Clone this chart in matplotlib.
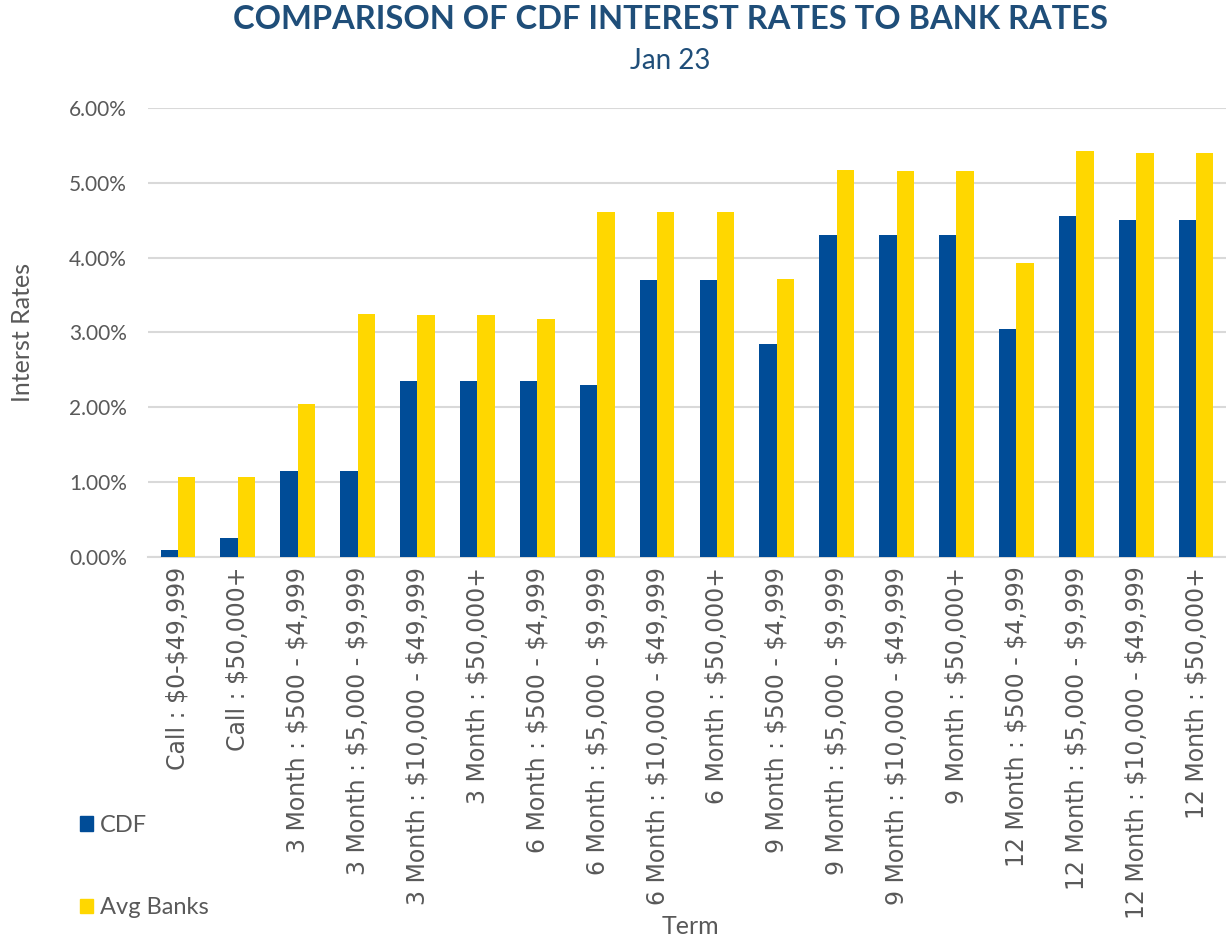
import numpy as np
import matplotlib.pyplot as plt
from matplotlib.patches import Patch
from matplotlib.ticker import PercentFormatter

# Term categories and rates (percent)
terms = [
    "Call : $0-$49,999", "Call : $50,000+",
    "3 Month : $500 - $4,999", "3 Month : $5,000 - $9,999",
    "3 Month : $10,000 - $49,999", "3 Month : $50,000+",
    "6 Month : $500 - $4,999", "6 Month : $5,000 - $9,999",
    "6 Month : $10,000 - $49,999", "6 Month : $50,000+",
    "9 Month : $500 - $4,999", "9 Month : $5,000 - $9,999",
    "9 Month : $10,000 - $49,999", "9 Month : $50,000+",
    "12 Month : $500 - $4,999", "12 Month : $5,000 - $9,999",
    "12 Month : $10,000 - $49,999", "12 Month : $50,000+",
]
cdf_rates = [0.10, 0.25, 1.15, 1.15, 2.35, 2.35, 2.35, 2.30, 3.70, 3.70,
             2.85, 4.30, 4.30, 4.30, 3.05, 4.55, 4.50, 4.50]
bank_rates = [1.07, 1.07, 2.04, 3.25, 3.24, 3.24, 3.18, 4.61, 4.61, 4.61,
              3.71, 5.17, 5.16, 5.16, 3.93, 5.42, 5.40, 5.40]

CDF_COLOR = "#004C97"
BANK_COLOR = "#FFD700"
TEXT_GRAY = "#595959"
TITLE_BLUE = "#1F4E79"

plt.rcParams["font.family"] = ["Lato", "DejaVu Sans"]
plt.rcParams["text.parse_math"] = False

fig = plt.figure(figsize=(12.26, 9.38), dpi=100)
ax = fig.add_axes([0.1207, 0.4062, 0.8793, 0.4787])

x = np.arange(len(terms))
w = 0.29
ax.bar(x - w / 2, cdf_rates, w, color=CDF_COLOR, zorder=3)
ax.bar(x + w / 2, bank_rates, w, color=BANK_COLOR, zorder=3)

ax.set_xlim(-0.5, len(terms) - 0.5)
ax.set_ylim(0, 6)
ax.set_yticks(np.arange(0, 7, 1))
ax.yaxis.set_major_formatter(PercentFormatter(decimals=2))
ax.set_xticks(x, labels=terms, rotation=90, family="DejaVu Sans")
ax.tick_params(axis="both", length=0, labelcolor=TEXT_GRAY)
ax.tick_params(axis="x", pad=7, labelsize=17)
ax.tick_params(axis="y", pad=15, labelsize=15)

ax.grid(axis="y", color="#D9D9D9", linewidth=1.5, zorder=0)
for s in ["top", "right", "left"]:
    ax.spines[s].set_visible(False)
ax.spines["bottom"].set_color("#D9D9D9")
ax.spines["bottom"].set_linewidth(1.5)

fig.text(0.5465, 0.979, "COMPARISON OF CDF INTEREST RATES TO BANK RATES",
         ha="center", va="center", fontsize=23.5, fontweight="bold", color=TITLE_BLUE)
fig.text(0.547, 0.935, "Jan 23", ha="center", va="center", fontsize=20, color=TITLE_BLUE)
fig.text(0.018, 0.646, "Interst Rates", ha="center", va="center", rotation=90,
         fontsize=18, color=TEXT_GRAY)
fig.text(0.563, 0.012, "Term", ha="center", va="center", fontsize=18, color=TEXT_GRAY)

handles = [Patch(color=CDF_COLOR, label="CDF"), Patch(color=BANK_COLOR, label="Avg Banks")]
fig.legend(handles=handles, loc="upper left", bbox_to_anchor=(0.048, 0.154), frameon=False,
           fontsize=17, labelcolor=TEXT_GRAY, handlelength=0.55, handleheight=0.55,
           handletextpad=0.3, labelspacing=2.6)

plt.savefig("out.png")
plt.close(fig)
